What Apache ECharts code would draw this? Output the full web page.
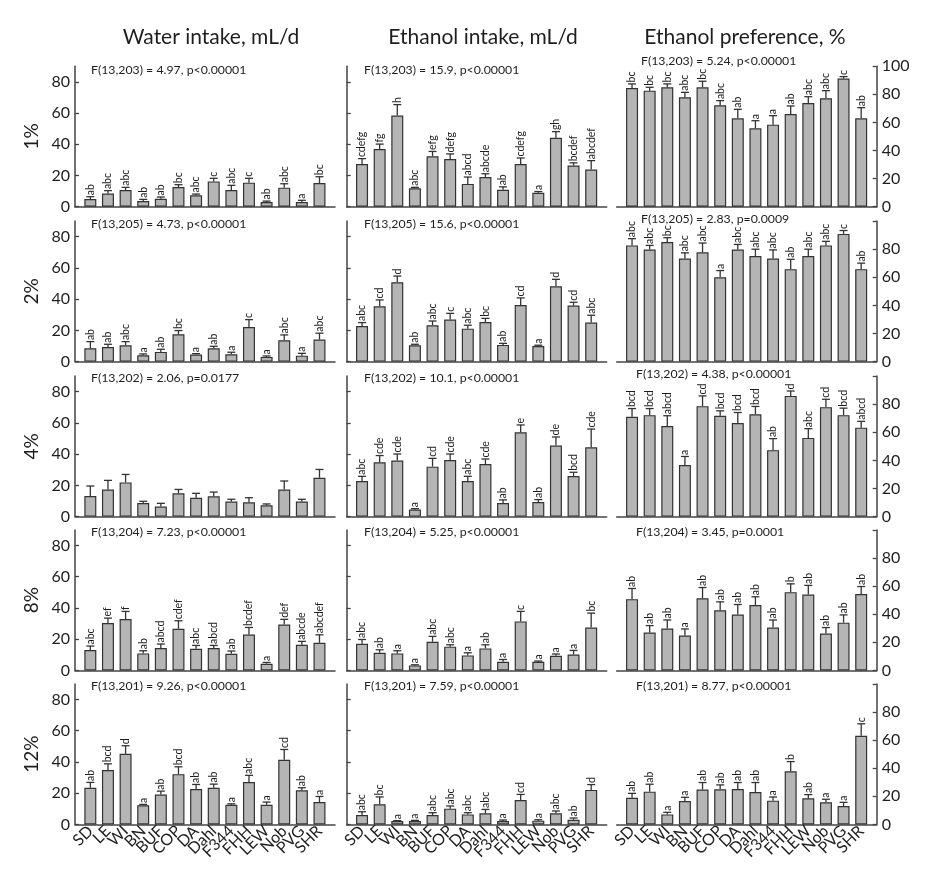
<!DOCTYPE html>
<html><head><meta charset="utf-8">
<script src="https://cdn.jsdelivr.net/npm/echarts@6/dist/echarts.min.js"></script>
<style>html,body{margin:0;padding:0;background:#fff}#c{width:930px;height:874px}</style>
</head><body><div id="c"></div>
<script>
const strains = ['SD','LE','WI','BN','BUF','COP','DA','Dahl','F344','FHH','LEW','Nob','PVG','SHR'];
const concentrations = ['1%','2%','4%','8%','12%'];
const measures = ['Water intake, mL/d','Ethanol intake, mL/d','Ethanol preference, %'];

// Water intake (mean, SEM, group letters) per ethanol concentration
const water1Mean = [4.9,8.5,10.7,3.6,5.1,12.6,7.3,16.2,10.7,15.4,3.0,12.2,3.0,15.2];
const water1Sem  = [1.5,1.8,1.7,1.1,1.1,1.5,0.8,2.0,3.0,2.8,0.6,2.5,1.1,4.0];
const water1Grp  = ['ab','abc','abc','ab','ab','bc','abc','c','abc','c','ab','abc','a','bc'];
const water2Mean = [8.5,9.4,10.5,4.1,6.2,17.5,4.5,8.5,4.7,22.2,3.0,13.7,3.8,14.1];
const water2Sem  = [4.3,1.7,2.3,0.8,1.7,2.4,0.6,1.3,1.3,4.7,0.6,3.4,1.5,4.1];
const water2Grp  = ['ab','ab','abc','a','ab','bc','a','ab','a','c','a','abc','a','abc'];
const water4Mean = [13.2,17.4,21.9,8.7,6.4,14.9,12.1,13.0,9.6,9.2,7.2,17.4,9.6,24.9];
const water4Sem  = [6.4,5.8,5.1,1.1,2.1,2.5,2.8,2.7,1.5,2.9,0.9,5.4,1.5,5.3];
const water4Grp  = ['','','','','','','','','','','','','',''];
const water8Mean = [13.0,30.3,32.9,10.9,14.3,26.7,13.9,14.3,10.7,23.0,4.3,29.4,16.4,17.7];
const water8Sem  = [2.6,3.2,4.9,1.7,2.6,5.1,2.1,1.7,1.7,4.5,0.8,3.3,2.2,5.1];
const water8Grp  = ['abc','ef','f','ab','abcd','cdef','abc','abcd','ab','bcdef','a','def','abcde','abcdef'];
const water12Mean = [23.5,34.8,45.2,12.2,19.2,32.2,22.6,23.5,12.6,27.1,12.6,41.4,21.8,14.3];
const water12Sem  = [3.4,4.0,5.2,0.6,2.1,4.7,3.0,2.3,0.6,4.3,1.7,6.6,1.7,3.6];
const water12Grp  = ['ab','bcd','d','a','ab','bcd','ab','ab','a','abc','a','cd','ab','a'];

// Ethanol intake
const eth1Mean = [27.4,36.9,58.4,11.8,32.3,30.6,14.6,19.0,10.8,27.4,8.9,44.1,26.4,23.8];
const eth1Sem  = [3.4,3.2,7.0,0.6,3.1,3.2,4.4,2.1,1.9,3.8,0.8,4.0,1.7,5.7];
const eth1Grp  = ['cdefg','fg','h','abc','efg','defg','abcd','abcde','ab','cdefg','a','gh','bcdef','abcdef'];
const eth2Mean = [22.8,35.4,50.8,10.5,23.3,26.9,21.1,25.4,10.7,36.3,10.0,48.2,35.9,25.0];
const eth2Sem  = [2.2,4.1,4.0,0.6,2.7,4.0,2.2,2.3,1.0,4.5,0.5,4.5,2.1,4.7];
const eth2Grp  = ['abc','cd','d','ab','abc','c','abc','bc','ab','cd','a','d','cd','abc'];
const eth4Mean = [22.8,34.8,35.9,4.5,32.0,36.3,22.8,33.7,8.7,54.0,9.4,45.5,26.0,44.4];
const eth4Sem  = [3.0,4.3,4.2,0.6,5.3,3.8,3.0,3.2,2.0,4.7,1.5,5.5,2.4,11.7];
const eth4Grp  = ['abc','cde','cde','a','cd','cde','abc','cde','ab','e','ab','de','bcd','cde'];
const eth8Mean = [17.1,11.3,10.9,3.2,18.4,15.2,9.6,14.1,5.5,31.4,5.5,9.4,10.2,27.5];
const eth8Sem  = [2.7,1.9,1.7,0.4,3.4,1.2,1.7,2.3,1.5,6.4,0.5,1.1,2.6,9.2];
const eth8Grp  = ['abc','ab','a','a','abc','abc','a','ab','a','c','a','a','a','bc'];
const eth12Mean = [6.0,12.9,2.1,2.1,6.0,10.1,6.4,7.1,2.1,15.6,2.4,7.1,3.0,22.1];
const eth12Sem  = [2.1,4.7,0.3,0.5,1.5,1.7,1.1,2.5,0.7,3.6,0.6,1.5,1.1,3.4];
const eth12Grp  = ['abc','bc','a','a','abc','abc','abc','abc','a','cd','a','abc','ab','d'];

// Ethanol preference
const pref1Mean = [84.5,82.6,85.0,77.9,85.0,72.2,62.9,55.8,58.4,66.0,73.8,77.2,91.2,62.9];
const pref1Sem  = [2.9,2.4,2.4,3.5,4.3,3.3,6.4,5.4,6.4,5.7,4.5,5.4,1.4,7.6];
const pref1Grp  = ['bc','bc','bc','abc','bc','abc','ab','a','a','ab','abc','abc','c','ab'];
const pref2Mean = [82.7,79.8,85.1,73.3,77.8,60.0,79.8,75.2,73.3,65.8,75.2,82.7,90.9,65.8];
const pref2Sem  = [4.8,2.9,3.1,4.1,6.6,4.8,3.6,4.8,6.2,7.0,4.8,2.9,2.4,4.3];
const pref2Grp  = ['abc','abc','bc','abc','abc','a','abc','abc','abc','ab','abc','abc','c','ab'];
const pref4Mean = [71.1,72.2,64.5,36.7,78.6,71.8,66.6,72.9,47.3,85.9,56.0,77.9,72.2,63.3];
const pref4Sem  = [5.8,4.7,7.3,6.1,7.3,3.5,7.5,5.5,8.2,3.5,6.6,5.6,5.0,4.5];
const pref4Grp  = ['bcd','bcd','abcd','a','cd','bcd','bcd','bcd','ab','d','abc','cd','bcd','abcd'];
const pref8Mean = [50.7,26.9,29.8,24.8,51.4,42.8,39.7,46.6,30.5,55.7,54.0,26.2,34.0,54.3];
const pref8Sem  = [7.6,5.0,6.1,4.7,7.6,6.0,7.2,5.8,5.4,5.9,6.5,4.3,5.5,5.4];
const pref8Grp  = ['ab','ab','ab','a','ab','ab','ab','ab','ab','b','ab','ab','ab','ab'];
const pref12Mean = [19.0,23.3,7.1,16.7,24.8,25.0,25.2,23.1,16.9,37.8,18.6,15.7,13.1,63.1];
const pref12Sem  = [3.1,5.3,1.5,2.6,5.0,3.1,4.6,6.7,2.6,6.9,2.6,2.2,2.6,8.5];
const pref12Grp  = ['ab','ab','a','a','ab','ab','ab','ab','a','b','ab','a','a','c'];

const waterStats = ['F(13,203) = 4.97, p<0.00001','F(13,205) = 4.73, p<0.00001','F(13,202) = 2.06, p=0.0177','F(13,204) = 7.23, p<0.00001','F(13,201) = 9.26, p<0.00001'];
const ethStats   = ['F(13,203) = 15.9, p<0.00001','F(13,205) = 15.6, p<0.00001','F(13,202) = 10.1, p<0.00001','F(13,204) = 5.25, p<0.00001','F(13,201) = 7.59, p<0.00001'];
const prefStats  = ['F(13,203) = 5.24, p<0.00001','F(13,205) = 2.83, p=0.0009','F(13,202) = 4.38, p<0.00001','F(13,204) = 3.45, p=0.0001','F(13,201) = 8.77, p<0.00001'];

const waterTicks = [0,20,40,60,80];
const prefTicks = [0,20,40,60,80,100];

// ---- assembly ----
const panels = [
  [[water1Mean,water1Sem,water1Grp],[eth1Mean,eth1Sem,eth1Grp],[pref1Mean,pref1Sem,pref1Grp]],
  [[water2Mean,water2Sem,water2Grp],[eth2Mean,eth2Sem,eth2Grp],[pref2Mean,pref2Sem,pref2Grp]],
  [[water4Mean,water4Sem,water4Grp],[eth4Mean,eth4Sem,eth4Grp],[pref4Mean,pref4Sem,pref4Grp]],
  [[water8Mean,water8Sem,water8Grp],[eth8Mean,eth8Sem,eth8Grp],[pref8Mean,pref8Sem,pref8Grp]],
  [[water12Mean,water12Sem,water12Grp],[eth12Mean,eth12Sem,eth12Grp],[pref12Mean,pref12Sem,pref12Grp]]
];
const stats = [waterStats, ethStats, prefStats];

const FONT = 'Lato, "Liberation Sans", sans-serif';
const INK = '#1e1e1e';
const AXIS = '#454545';
const colLeft = [75, 346.7, 616.7];
const colW = 260;
const xMin = -0.87, xMax = 13.88;
const step = colW / (xMax - xMin);
const rowBase = [206.7, 361.6, 516.6, 670.4, 824.4];
const panelH = 140.5;
const statX = [[91,364,641],[91,364,641],[91,364,636],[91,364,636],[91,364,636]];
const statDy = [[3.5,3.5,-5],[2.5,2.5,-2],[1.5,1.5,-2],[2,2,2.5],[2.5,2.5,2]];

const grids = [], xAxes = [], yAxes = [], series = [], graphics = [];

function makeRender(groups) {
  return function (params, api) {
    const x = api.value(0), m = api.value(1), s = api.value(2);
    const a = api.coord([x, m]);
    const b = api.coord([x, m + s]);
    const st = { stroke: '#333', lineWidth: 1.3 };
    const children = [
      { type: 'line', shape: { x1: a[0], y1: a[1], x2: b[0], y2: b[1] }, style: st },
      { type: 'line', shape: { x1: b[0] - 4, y1: b[1], x2: b[0] + 4, y2: b[1] }, style: st }
    ];
    const g = groups[params.dataIndex];
    if (g) {
      children.push({ type: 'text', x: b[0], y: b[1] - 1.5, rotation: Math.PI / 2,
        style: { text: g, x: 0, y: 0, align: 'left', verticalAlign: 'middle',
                 font: '10.5px ' + FONT, fill: INK } });
    }
    return { type: 'group', children };
  };
}

for (let r = 0; r < 5; r++) {
  for (let c = 0; c < 3; c++) {
    const gi = r * 3 + c;
    const [mean, sem, grp] = panels[r][c];
    grids.push({ left: colLeft[c], top: rowBase[r] - panelH, width: colW, height: panelH, containLabel: false, outerBoundsMode: 'none' });
    xAxes.push({
      type: 'value', gridIndex: gi, min: xMin, max: xMax,
      axisLine: { show: true, onZero: false, lineStyle: { color: AXIS, width: 1.5 } },
      axisTick: { show: false }, splitLine: { show: false }, axisLabel: { show: false }
    });
    const isPref = c === 2;
    const ticks = isPref ? prefTicks : waterTicks;
    yAxes.push({
      type: 'value', gridIndex: gi, min: 0, max: isPref ? 100 : 90,
      position: isPref ? 'right' : 'left',
      axisLine: { show: true, onZero: false, lineStyle: { color: AXIS, width: 1.5 } },
      axisTick: { show: true, inside: true, length: 4, customValues: ticks, lineStyle: { color: AXIS, width: 1.3 } },
      splitLine: { show: false },
      axisLabel: c === 1 ? { show: false } : {
        show: true, customValues: (isPref && r > 0) ? waterTicks : ticks,
        fontSize: 16, fontFamily: FONT, color: INK, margin: 5,
        showMinLabel: true, showMaxLabel: true
      }
    });
    series.push({
      type: 'bar', xAxisIndex: gi, yAxisIndex: gi, barWidth: 12, silent: true,
      data: mean.map((v, i) => [i, v]),
      itemStyle: { color: '#b5b5b5', borderColor: '#333', borderWidth: 1.2 }
    });
    series.push({
      type: 'custom', xAxisIndex: gi, yAxisIndex: gi, silent: true,
      data: mean.map((v, i) => [i, v, sem[i]]),
      renderItem: makeRender(grp)
    });
    graphics.push({
      type: 'text', x: statX[r][c], y: rowBase[r] - panelH + statDy[r][c],
      style: { text: stats[c][r], font: '12.3px ' + FONT, fill: INK, align: 'left', verticalAlign: 'middle', textAlign: 'left', textVerticalAlign: 'middle' }
    });
  }
  graphics.push({
    type: 'text', x: 32, y: rowBase[r] - panelH / 2, rotation: Math.PI / 2,
    style: { text: concentrations[r], font: '19px ' + FONT, fill: INK, align: 'center', verticalAlign: 'middle', textAlign: 'center', textVerticalAlign: 'middle' }
  });
}

// category label axes under the bottom row (band centres coincide with bar positions)
for (let c = 0; c < 3; c++) {
  const gi = grids.length;
  grids.push({ left: colLeft[c] + (0 - xMin - 0.5) * step, top: rowBase[4] - panelH, width: 14 * step, height: panelH, containLabel: false, outerBoundsMode: 'none' });
  xAxes.push({
    type: 'category', gridIndex: gi, data: strains, boundaryGap: true,
    axisLine: { show: false }, axisTick: { show: false }, splitLine: { show: false },
    axisLabel: { show: true, interval: 0, rotate: 45, fontSize: 16, fontFamily: FONT, color: INK, margin: 4 }
  });
  yAxes.push({ type: 'value', gridIndex: gi, min: 0, max: 1, show: false });
}

const titleX = [211, 483, 745];
measures.forEach((m, c) => {
  graphics.push({
    type: 'text', x: titleX[c], y: 37,
    style: { text: m, font: '21px ' + FONT, fill: INK, align: 'center', verticalAlign: 'middle', textAlign: 'center', textVerticalAlign: 'middle' }
  });
});

const chart = echarts.init(document.getElementById('c'), null, { renderer: 'canvas' });
chart.setOption({
  animation: false,
  backgroundColor: '#ffffff',
  grid: grids, xAxis: xAxes, yAxis: yAxes, series: series,
  graphic: { elements: graphics }
});
</script></body></html>
